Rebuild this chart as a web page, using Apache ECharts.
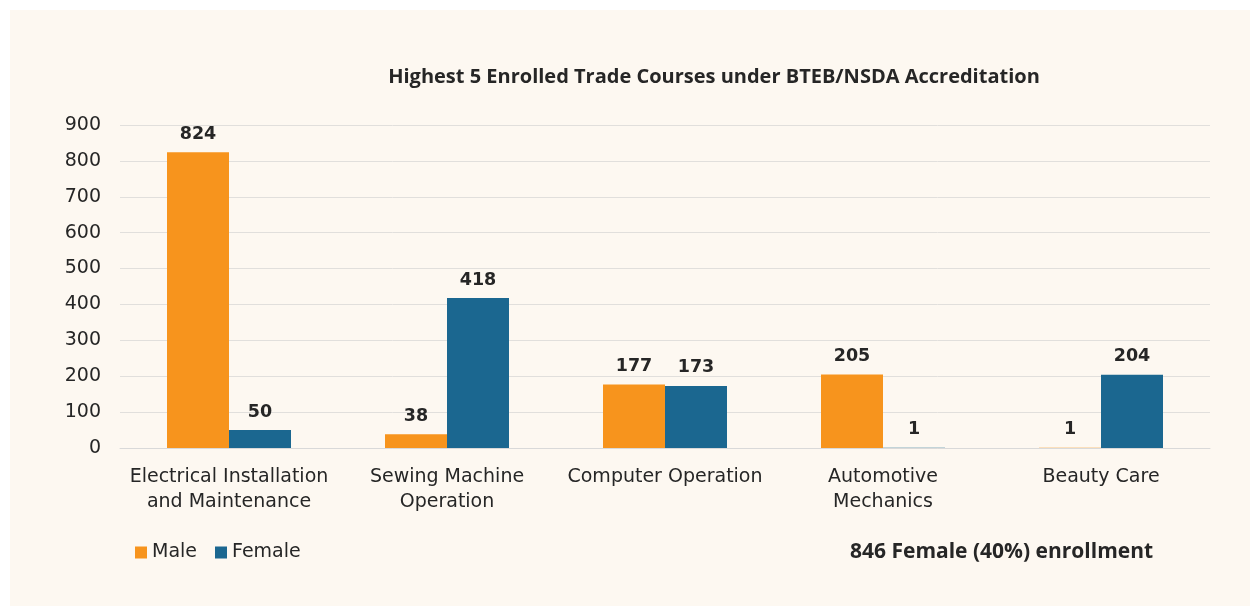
<!DOCTYPE html>
<html>
<head>
<meta charset="utf-8">
<script src="https://cdn.jsdelivr.net/npm/echarts@6/dist/echarts.min.js"></script>
<style>
  html, body { margin: 0; padding: 0; background: #ffffff; }
  #echa1 { width: 1256px; height: 610px; }
</style>
</head>
<body>
<div id="echa1"></div>
<script>
var courses = ['Electrical Installation\nand Maintenance', 'Sewing Machine\nOperation', 'Computer Operation', 'Automotive\nMechanics', 'Beauty Care'];
var maleData = [824, 38, 177, 205, 1];
var femaleData = [50, 418, 173, 1, 204];
var yTicks = [0, 100, 200, 300, 400, 500, 600, 700, 800, 900];

var dom = document.getElementById('echa1');
var myChart = echarts.init(dom);

var labelFont = '"DejaVu Sans", sans-serif';

var option = {
    backgroundColor: '#ffffff',
    graphic: [{
        type: 'rect',
        left: 10, top: 10,
        shape: { width: 1240, height: 596 },
        style: { fill: '#fdf8f1' },
        z: -10
    }, {
        type: 'text',
        left: 850, top: 542,
        style: {
            text: '846 Female (40%) enrollment',
            fontFamily: 'Open Sans',
            fontWeight: 'bold',
            fontSize: 21,
            fill: '#262626'
        }
    }],
    title: {
        text: 'Highest 5 Enrolled Trade Courses under BTEB/NSDA Accreditation',
        left: 709, top: 62,
        textAlign: 'center',
        textStyle: {
            fontFamily: 'Open Sans, sans-serif',
            fontWeight: 'bold',
            fontSize: 20,
            color: '#262626'
        }
    },
    legend: {
        left: 130, top: 538,
        itemWidth: 12, itemHeight: 12,
        itemGap: 18,
        icon: 'rect',
        textStyle: { fontFamily: labelFont, fontSize: 19, color: '#262626' },
        data: ['Male', 'Female']
    },
    grid: { left: 120, right: 46, top: 125, bottom: 162, containLabel: false },
    xAxis: {
        type: 'category',
        data: courses,
        axisLine: { show: true, lineStyle: { color: '#d9d9d9' } },
        axisTick: { show: false },
        axisLabel: {
            fontFamily: labelFont, fontSize: 19, color: '#262626',
            margin: 17, lineHeight: 25, interval: 0
        }
    },
    yAxis: {
        type: 'value',
        min: yTicks[0], max: yTicks[yTicks.length - 1], interval: 100,
        axisLine: { show: false },
        axisTick: { show: false },
        splitLine: { lineStyle: { color: '#e1dfdc' } },
        axisLabel: { fontFamily: labelFont, fontSize: 19, color: '#262626', margin: 19 }
    },
    series: [{
        name: 'Male',
        type: 'bar',
        data: maleData,
        barWidth: 62,
        barGap: '0%',
        itemStyle: { color: '#f7941d' },
        label: {
            show: true, position: 'top', distance: 9,
            fontFamily: labelFont, fontWeight: 'bold', fontSize: 17.5, color: '#262626'
        }
    }, {
        name: 'Female',
        type: 'bar',
        data: femaleData,
        barWidth: 62,
        barGap: '0%',
        itemStyle: { color: '#1b6790' },
        label: {
            show: true, position: 'top', distance: 9,
            fontFamily: labelFont, fontWeight: 'bold', fontSize: 17.5, color: '#262626'
        }
    }]
};

myChart.setOption(option);
</script>
</body>
</html>
